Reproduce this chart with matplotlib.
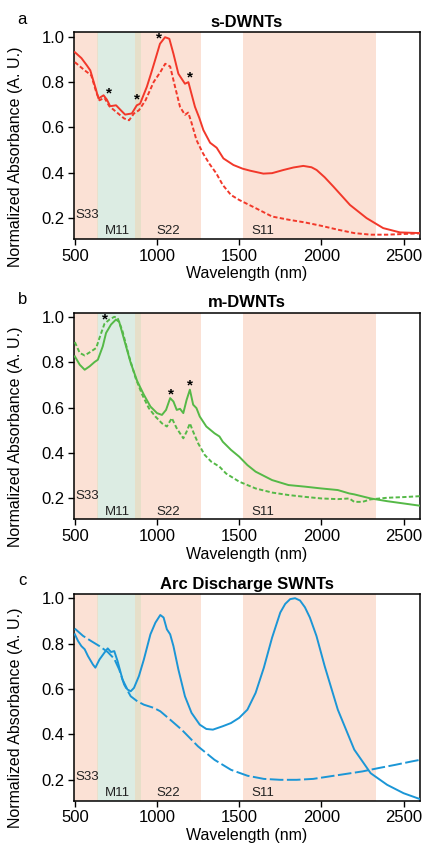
import matplotlib
matplotlib.use("Agg")
import matplotlib.pyplot as plt

plt.rcParams['font.family'] = ['Liberation Sans', 'DejaVu Sans']

# ---- panel a: s-DWNTs ----
a_solid_x = [500, 540, 573, 594, 624, 644, 675, 695, 715, 751, 780, 806, 847, 877, 897, 938,
             965, 988, 1018, 1049, 1075, 1100, 1130, 1170, 1191, 1207, 1231, 1258, 1282,
             1323, 1363, 1404, 1465, 1520, 1566, 1647, 1700, 1769, 1830, 1890, 1940, 1971,
             2020, 2073, 2174, 2275, 2376, 2478, 2600]
a_solid_y = [0.931, 0.905, 0.873, 0.851, 0.778, 0.727, 0.741, 0.722, 0.693, 0.697, 0.675,
             0.656, 0.661, 0.697, 0.704, 0.778, 0.84, 0.895, 0.968, 0.997, 0.99, 0.924,
             0.836, 0.792, 0.799, 0.755, 0.69, 0.64, 0.588, 0.532, 0.51, 0.463, 0.434,
             0.418, 0.409, 0.396, 0.398, 0.412, 0.423, 0.43, 0.424, 0.412, 0.38, 0.339,
             0.258, 0.2, 0.156, 0.137, 0.134]
a_dash_x = [500, 560, 600, 630, 650, 680, 710, 740, 800, 830, 860, 890, 930, 980, 1020,
            1050, 1080, 1110, 1140, 1170, 1190, 1210, 1240, 1280, 1320, 1360, 1400, 1450,
            1500, 1600, 1700, 1800, 1900, 2000, 2100, 2200, 2300, 2400, 2500, 2600]
a_dash_y = [0.887, 0.851, 0.829, 0.756, 0.719, 0.73, 0.693, 0.675, 0.639, 0.631, 0.661,
            0.675, 0.719, 0.8, 0.843, 0.88, 0.868, 0.778, 0.69, 0.655, 0.665, 0.62, 0.544,
            0.485, 0.438, 0.398, 0.346, 0.302, 0.28, 0.244, 0.207, 0.193, 0.181, 0.166,
            0.149, 0.134, 0.127, 0.127, 0.13, 0.133]
a_stars = [(1014, 0.99), (706, 0.748), (881, 0.722), (1200, 0.819)]

# ---- panel b: m-DWNTs ----
b_solid_x = [500, 530, 560, 590, 620, 640, 670, 690, 720, 750, 770, 800, 840, 880, 920,
             960, 1000, 1030, 1055, 1080, 1100, 1120, 1140, 1160, 1180, 1200, 1220, 1240,
             1260, 1300, 1350, 1380, 1400, 1450, 1500, 1550, 1600, 1700, 1800, 1900, 2000,
             2100, 2170, 2200, 2300, 2400, 2500, 2600]
b_solid_y = [0.826, 0.789, 0.767, 0.782, 0.801, 0.811, 0.87, 0.929, 0.966, 0.988, 0.978,
             0.9, 0.797, 0.716, 0.657, 0.605, 0.576, 0.568, 0.59, 0.642, 0.627, 0.59,
             0.595, 0.576, 0.634, 0.679, 0.613, 0.598, 0.561, 0.517, 0.487, 0.473, 0.45,
             0.414, 0.384, 0.347, 0.318, 0.281, 0.259, 0.252, 0.244, 0.237, 0.222, 0.218,
             0.2, 0.188, 0.178, 0.168]
b_dash_x = [500, 530, 560, 600, 630, 650, 680, 710, 740, 760, 790, 830, 870, 910, 950,
            990, 1030, 1060, 1090, 1120, 1160, 1180, 1200, 1220, 1250, 1290, 1330, 1380,
            1420, 1500, 1600, 1700, 1800, 1900, 2000, 2100, 2170, 2200, 2250, 2300, 2400,
            2500, 2600]
b_dash_y = [0.889, 0.841, 0.83, 0.848, 0.863, 0.907, 0.969, 0.988, 1.0, 0.996, 0.937,
            0.826, 0.73, 0.657, 0.598, 0.561, 0.531, 0.517, 0.554, 0.509, 0.465, 0.494,
            0.531, 0.494, 0.443, 0.392, 0.362, 0.34, 0.31, 0.274, 0.244, 0.226, 0.215,
            0.207, 0.2, 0.197, 0.2, 0.185, 0.185, 0.196, 0.203, 0.206, 0.21]
b_stars = [(686, 0.988), (1085, 0.657), (1200, 0.698)]

# ---- panel c: Arc Discharge SWNTs ----
c_solid_x = [500, 520, 540, 560, 580, 610, 625, 650, 680, 700, 720, 740, 760, 790, 820,
             840, 860, 890, 920, 960, 990, 1020, 1040, 1060, 1080, 1100, 1130, 1170, 1210,
             1260, 1300, 1340, 1400, 1450, 1500, 1550, 1600, 1650, 1700, 1750, 1780, 1810,
             1840, 1870, 1900, 1930, 1970, 2020, 2100, 2200, 2300, 2400, 2500, 2600]
c_solid_y = [0.841, 0.811, 0.789, 0.775, 0.745, 0.708, 0.694, 0.73, 0.76, 0.779, 0.763,
             0.767, 0.723, 0.642, 0.598, 0.59, 0.605, 0.657, 0.73, 0.841, 0.892, 0.926,
             0.915, 0.863, 0.841, 0.789, 0.686, 0.568, 0.495, 0.443, 0.424, 0.421, 0.436,
             0.45, 0.473, 0.509, 0.583, 0.694, 0.826, 0.937, 0.975, 0.996, 1.0, 0.99,
             0.96, 0.915, 0.834, 0.701, 0.509, 0.333, 0.229, 0.178, 0.141, 0.115]
c_dash_x = [500, 550, 600, 650, 700, 740, 770, 800, 840, 880, 920, 980, 1020, 1080, 1150,
            1250, 1350, 1450, 1550, 1650, 1750, 1850, 1950, 2050, 2150, 2250, 2350, 2450,
            2550, 2600]
c_dash_y = [0.866, 0.834, 0.811, 0.789, 0.763, 0.733, 0.686, 0.62, 0.568, 0.546, 0.531,
            0.517, 0.502, 0.465, 0.421, 0.347, 0.288, 0.244, 0.218, 0.204, 0.2, 0.2, 0.204,
            0.215, 0.226, 0.237, 0.252, 0.266, 0.281, 0.288]

titles = ['s-DWNTs', 'm-DWNTs', 'Arc Discharge SWNTs']
letters = ['a', 'b', 'c']
colors = ['#f2382a', '#55b947', '#1b96d6']
dash_styles = [(0, (2.2, 1.2)), (0, (2.2, 1.2)), (0, (7, 1.8))]

# shaded transition regions (start, end, colour)
bands = [(495, 632, '#fbe1d5'), (632, 640, '#e9e0cc'), (640, 866, '#dcece3'),
         (866, 900, '#e6dfc9'), (900, 1270, '#fbe1d5'), (1524, 2335, '#fbe1d5')]
band_labels = [('S33', 503, 0.212, 'left'), ('M11', 761, 0.142, 'center'),
               ('S22', 1069, 0.142, 'center'), ('S11', 1644, 0.142, 'center')]

series = [(a_solid_x, a_solid_y, a_dash_x, a_dash_y, a_stars),
          (b_solid_x, b_solid_y, b_dash_x, b_dash_y, b_stars),
          (c_solid_x, c_solid_y, c_dash_x, c_dash_y, [])]

fig = plt.figure(figsize=(4.27, 8.49), dpi=100)
bottoms = [0.7185, 0.3883, 0.0569]
for i in range(3):
    ax = fig.add_axes([0.1733, bottoms[i], 0.8103, 0.2433])
    sx, sy, dx, dy, stars = series[i]
    for x0, x1, c in bands:
        ax.axvspan(x0, x1, color=c, lw=0, zorder=0)
    ax.plot(dx, dy, color=colors[i], lw=1.4, linestyle=dash_styles[i], zorder=3)
    ax.plot(sx, sy, color=colors[i], lw=1.4, zorder=4)
    for x, y in stars:
        ax.text(x, y, '*', fontsize=11, fontweight='bold', ha='center', va='center', zorder=5)
    for txt, x, y, ha in band_labels:
        ax.text(x, y, txt, fontsize=9.5, ha=ha, va='center', color='#222222', zorder=5)
    ax.set_xlim(495, 2600)
    ax.set_ylim(0.108, 1.018)
    ax.set_xticks([500, 1000, 1500, 2000, 2500])
    ax.set_yticks([0.2, 0.4, 0.6, 0.8, 1.0])
    ax.set_yticklabels(['0.2', '0.4', '0.6', '0.8', '1.0'])
    ax.tick_params(direction='out', length=4, width=1, labelsize=12, pad=3)
    for sp in ax.spines.values():
        sp.set_linewidth(1.1)
    ax.set_xlabel('Wavelength (nm)', fontsize=11.5, labelpad=2)
    ax.set_ylabel('Normalized Absorbance (A. U.)', fontsize=11.5)
    ax.yaxis.set_label_coords(-0.147, 0.40)
    ax.set_title(titles[i], fontsize=12, fontweight='bold', pad=4)
    ax.text(-0.15, 1.065, letters[i], transform=ax.transAxes, fontsize=12,
            ha='center', va='center')

fig.savefig('out.png', dpi=100)
